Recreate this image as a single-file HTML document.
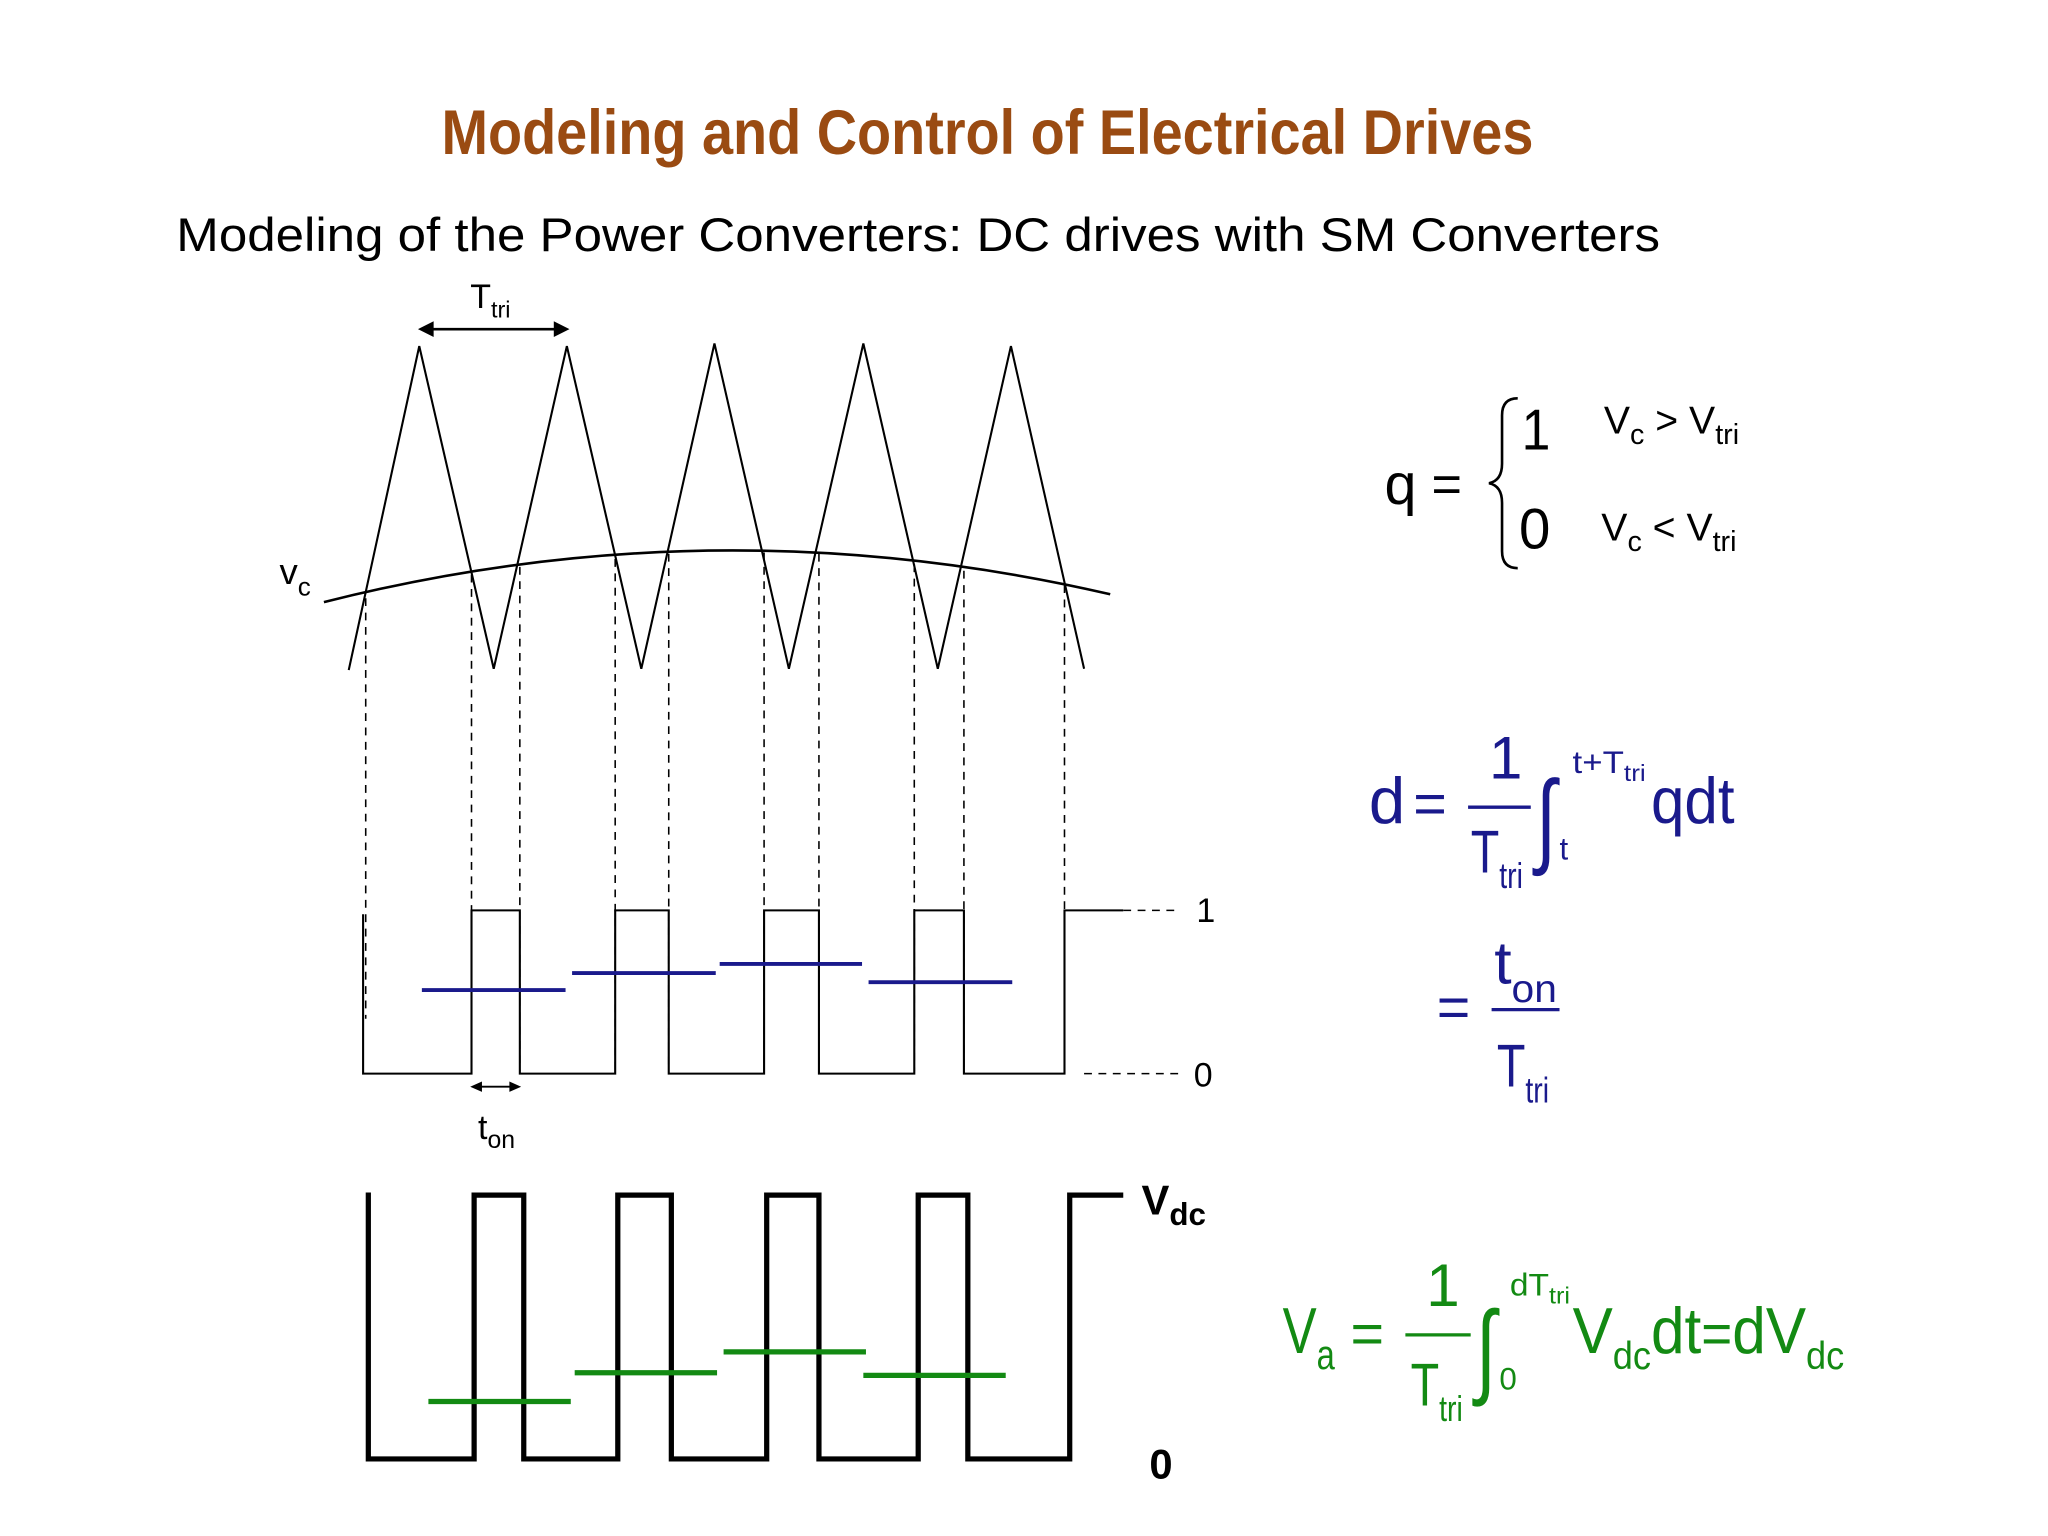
<!DOCTYPE html>
<html><head><meta charset="utf-8"><style>
html,body{margin:0;padding:0;background:#fff;}
svg{display:block;}
text{font-family:"Liberation Sans",sans-serif;}
.n{font-family:"Liberation Sans Narrow","Liberation Sans",sans-serif;}
</style></head><body>
<svg width="2048" height="1536" viewBox="0 0 1568 1176" xmlns="http://www.w3.org/2000/svg">
<rect width="1568" height="1176" fill="#fff"/>
<text x="756" y="118" text-anchor="middle" class="n" font-size="48" font-weight="bold" fill="#9a4b12" textLength="836" lengthAdjust="spacingAndGlyphs">Modeling and Control of Electrical Drives</text>
<text x="135" y="192" font-size="36" fill="#000" textLength="1136" lengthAdjust="spacingAndGlyphs">Modeling of the Power Converters: DC drives with SM Converters</text>

<!-- Ttri arrow -->
<text x="360" y="236" font-size="26">T<tspan font-size="18" dy="7">tri</tspan></text>
<line x1="326" y1="252" x2="430" y2="252" stroke="#000" stroke-width="2"/>
<path d="M320 252 L332 246 L332 258Z M436 252 L424 246 L424 258Z" fill="#000"/>

<!-- triangle -->
<polyline fill="none" stroke="#000" stroke-width="1.6" points="267,513 321,265 378,512 434,265 491,512 547,263 604,512 661,263 718,512 774,265 830,512"/>
<path d="M248 461 Q548 385 850 455" fill="none" stroke="#000" stroke-width="2"/>
<text x="214" y="447" font-size="28">v<tspan font-size="20" dy="9">c</tspan></text>

<!-- dashed verticals -->
<g stroke="#000" stroke-width="1.2" stroke-dasharray="6,5">
<line x1="280" y1="458" x2="280" y2="780"/>
<line x1="361" y1="440" x2="361" y2="820"/>
<line x1="398" y1="434" x2="398" y2="820"/>
<line x1="471" y1="428" x2="471" y2="820"/>
<line x1="512" y1="424" x2="512" y2="820"/>
<line x1="585" y1="423" x2="585" y2="820"/>
<line x1="627" y1="424" x2="627" y2="820"/>
<line x1="700" y1="432" x2="700" y2="820"/>
<line x1="738" y1="437" x2="738" y2="820"/>
<line x1="815" y1="448" x2="815" y2="820"/>
<line x1="860" y1="697" x2="902" y2="697"/>
<line x1="830" y1="822" x2="905" y2="822"/>
</g>
<text x="916" y="706" font-size="26">1</text>
<text x="914" y="832" font-size="26">0</text>

<!-- thin PWM -->
<polyline fill="none" stroke="#000" stroke-width="1.6" points="278,700 278,822 361,822 361,697 398,697 398,822 471,822 471,697 512,697 512,822 585,822 585,697 627,697 627,822 700,822 700,697 738,697 738,822 815,822 815,697 860,697"/>
<g stroke="#1a1a8c" stroke-width="3">
<line x1="323" y1="758" x2="433" y2="758"/>
<line x1="438" y1="745" x2="548" y2="745"/>
<line x1="551" y1="738" x2="660" y2="738"/>
<line x1="665" y1="752" x2="775" y2="752"/>
</g>
<line x1="366" y1="832" x2="393" y2="832" stroke="#000" stroke-width="1.5"/>
<path d="M360 832 L369 828 L369 836Z M399 832 L390 828 L390 836Z" fill="#000"/>
<text x="366" y="872" font-size="26">t<tspan font-size="19" dy="7">on</tspan></text>

<!-- thick PWM -->
<polyline fill="none" stroke="#000" stroke-width="4" points="282,913 282,1117 363,1117 363,915 401,915 401,1117 473,1117 473,915 514,915 514,1117 587,1117 587,915 627,915 627,1117 703,1117 703,915 741,915 741,1117 819,1117 819,915 860,915"/>
<g stroke="#138a13" stroke-width="4">
<line x1="328" y1="1073" x2="437" y2="1073"/>
<line x1="440" y1="1051" x2="549" y2="1051"/>
<line x1="554" y1="1035" x2="663" y2="1035"/>
<line x1="661" y1="1053" x2="770" y2="1053"/>
</g>
<text x="874" y="930" font-size="32" font-weight="bold">V<tspan font-size="24" dy="8">dc</tspan></text>
<text x="880" y="1132" font-size="32" font-weight="bold">0</text>

<!-- q equation -->
<text x="1060" y="386" font-size="44">q</text>
<text x="1096" y="384" font-size="40">=</text>
<path d="M1162 305 Q1150 305 1150 318 L1150 355 Q1150 368 1140 370 Q1150 372 1150 385 L1150 422 Q1150 435 1162 435" fill="none" stroke="#000" stroke-width="2"/>
<text x="1165" y="344" font-size="44" textLength="22" lengthAdjust="spacingAndGlyphs">1</text>
<text x="1163" y="420" font-size="44" textLength="24" lengthAdjust="spacingAndGlyphs">0</text>
<text x="1228" y="332" font-size="30">V<tspan font-size="22" dy="8">c</tspan><tspan dy="-8"> &gt; V</tspan><tspan font-size="22" dy="8">tri</tspan></text>
<text x="1226" y="414" font-size="30">V<tspan font-size="22" dy="8">c</tspan><tspan dy="-8"> &lt; V</tspan><tspan font-size="22" dy="8">tri</tspan></text>

<!-- d equation -->
<g fill="#1a1a8c">
<text x="1048" y="630" font-size="50">d</text>
<text x="1082" y="630" font-size="44">=</text>
<text x="1140" y="596" font-size="46">1</text>
<line x1="1124" y1="618" x2="1172" y2="618" stroke="#1a1a8c" stroke-width="2.5"/>
<text x="1126" y="668" font-size="46" textLength="40" lengthAdjust="spacingAndGlyphs">T<tspan font-size="28" dy="12">tri</tspan></text>
<text x="1176" y="654" font-size="80" transform="translate(1176 0) scale(0.7 1) translate(-1176 0)">∫</text>
<text x="1204" y="592" font-size="24" textLength="56" lengthAdjust="spacingAndGlyphs">t+T<tspan font-size="18" dy="6">tri</tspan></text>
<text x="1194" y="658" font-size="24">t</text>
<text x="1264" y="630" font-size="50" textLength="64" lengthAdjust="spacingAndGlyphs">qdt</text>
<text x="1100" y="786" font-size="44">=</text>
<text x="1144" y="753" font-size="46" textLength="48" lengthAdjust="spacingAndGlyphs">t<tspan font-size="30" dy="14">on</tspan></text>
<line x1="1142" y1="773" x2="1194" y2="773" stroke="#1a1a8c" stroke-width="2.5"/>
<text x="1146" y="832" font-size="46" textLength="40" lengthAdjust="spacingAndGlyphs">T<tspan font-size="28" dy="12">tri</tspan></text>
</g>

<!-- Va equation -->
<g fill="#138a13">
<text x="982" y="1036" font-size="50" textLength="40" lengthAdjust="spacingAndGlyphs">V<tspan font-size="32" dy="12">a</tspan></text>
<text x="1034" y="1036" font-size="44">=</text>
<text x="1092" y="1000" font-size="46">1</text>
<line x1="1076" y1="1022" x2="1126" y2="1022" stroke="#138a13" stroke-width="2.5"/>
<text x="1080" y="1076" font-size="46" textLength="40" lengthAdjust="spacingAndGlyphs">T<tspan font-size="28" dy="12">tri</tspan></text>
<text x="1130" y="1060" font-size="80" transform="translate(1130 0) scale(0.7 1) translate(-1130 0)">∫</text>
<text x="1156" y="992" font-size="24" textLength="46" lengthAdjust="spacingAndGlyphs">dT<tspan font-size="18" dy="6">tri</tspan></text>
<text x="1148" y="1064" font-size="24">0</text>
<text x="1204" y="1036" font-size="50" textLength="208" lengthAdjust="spacingAndGlyphs">V<tspan font-size="30" dy="12">dc</tspan><tspan dy="-12" font-size="50">dt</tspan><tspan font-size="44">=</tspan><tspan font-size="50">dV</tspan><tspan font-size="30" dy="12">dc</tspan></text>
</g>
</svg>
</body></html>
